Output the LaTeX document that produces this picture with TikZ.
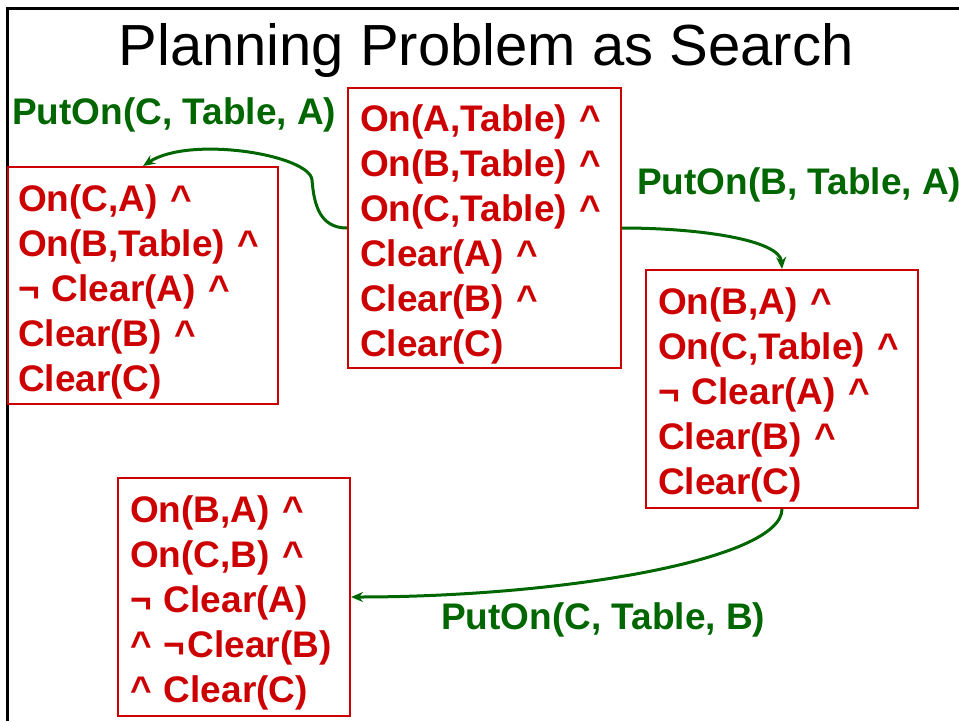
\documentclass[tikz,border=0pt]{standalone}
\usepackage{fontspec}
\setmainfont{Liberation Sans}
\usetikzlibrary{arrows.meta,positioning}
\definecolor{boxred}{HTML}{CC0000}
\definecolor{actgreen}{HTML}{006600}
\tikzset{
  statebox/.style={draw=boxred, line width=2pt, text=boxred, align=left,
    font=\bfseries\fontsize{37}{45}\selectfont, inner xsep=12pt, inner ysep=0pt,
    execute at begin node=\rule{0pt}{39pt}},
  actlabel/.style={text=actgreen, font=\bfseries\fontsize{37}{45}\selectfont,
    inner sep=0pt, anchor=west},
  move/.style={draw=actgreen, line width=3pt, -{Stealth[length=12pt,width=10pt]}}
}
\newcommand{\conj}{\textasciicircum}
\begin{document}
\begin{tikzpicture}[x=1pt,y=-1pt]
   \useasboundingbox (0,0) rectangle (959,721);
   \draw[line width=3pt] (7,721) -- (7,8) -- (959,8);
   \node[font=\fontsize{58}{60}\selectfont, anchor=base] (title) at (486,65) {Planning Problem as Search};
   % states
   \node[statebox, text width=249pt, minimum height=280pt] (s0) at (484.5,228)
     {On(A,Table) \conj\\ On(B,Table) \conj\\ On(C,Table) \conj\\ Clear(A) \conj\\ Clear(B) \conj\\ Clear(C)};
   \node[statebox, text width=250pt, minimum height=237pt, inner xsep=10pt] (s1) at (143,285.5)
     {On(C,A) \conj\\ On(B,Table) \conj\\ ¬ Clear(A) \conj\\ Clear(B) \conj\\ Clear(C)};
   \node[statebox, text width=248pt, minimum height=238pt] (s2) at (782,389)
     {On(B,A) \conj\\ On(C,Table) \conj\\ ¬ Clear(A) \conj\\ Clear(B) \conj\\ Clear(C)};
   \node[statebox, text width=208pt, minimum height=238pt] (s3) at (234,597)
     {On(B,A) \conj\\ On(C,B) \conj\\ ¬ Clear(A)\\ \conj{}~¬\kern2pt Clear(B)\\ \conj{} Clear(C)};
   % actions
   \node[actlabel] (a1) at (12,115) {PutOn(C, Table, A)};
   \node[actlabel] (a2) at (637,185) {PutOn(B, Table, A)};
   \node[actlabel] (a3) at (441,620) {PutOn(C, Table, B)};
   \draw[move] (s0.west) .. controls (320,228) and (314,205) .. (312,180)
     .. controls (310,155) and (190,135) .. (s1.north);
   \draw[move] (s0.east) .. controls (700,228) and (780,240) .. (s2.north);
   \draw[move] (s2.south) .. controls (782,560) and (560,597) .. (s3.east);
\end{tikzpicture}
\end{document}
